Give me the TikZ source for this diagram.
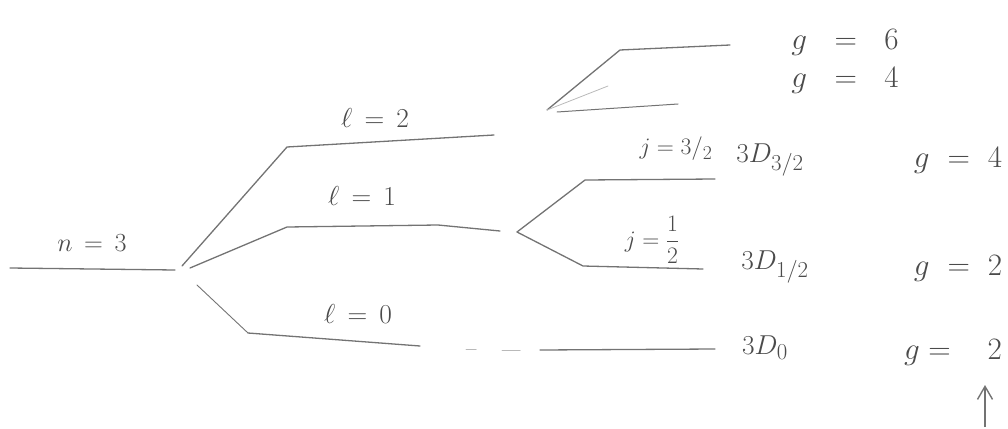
\documentclass[tikz,border=0pt]{standalone}
\usepackage{graphicx}
\usetikzlibrary{arrows.meta}
\definecolor{pencil}{RGB}{115,115,115}
\definecolor{ink}{RGB}{75,75,75}
\newcommand{\bigtxt}[2]{\scalebox{#1}{\Huge #2}}
\tikzset{
  level/.style={draw=pencil, line width=1.3pt, line cap=round, line join=round},
  faint/.style={draw=pencil!50, line width=0.8pt, line cap=round},
  lab/.style={text=ink, inner sep=1pt},
}
\begin{document}
\begin{tikzpicture}[x=1pt,y=-1pt]
\useasboundingbox (0,0) rectangle (1008,428);
% coordinates (pixels, y downwards)
\coordinate (n0) at (10,268);
\coordinate (n1) at (175,270);
\coordinate (s)  at (182,266);
\coordinate (d1) at (287,147);
\coordinate (d2) at (494,135);
\coordinate (p0) at (190,268);
\coordinate (p1) at (287,227);
\coordinate (p2) at (438,225);
\coordinate (p3) at (500,231);
\coordinate (o0) at (197,285);
\coordinate (o1) at (248,333);
\coordinate (o2) at (420,346);
\coordinate (o3) at (466,349);
\coordinate (o4) at (476,349);
\coordinate (o5) at (502,350);
\coordinate (o6) at (520,350);
\coordinate (o7) at (540,350);
\coordinate (o8) at (715,349);
\coordinate (ds) at (547,110);
\coordinate (da1) at (620,50);
\coordinate (da2) at (730,45);
\coordinate (db0) at (557,112);
\coordinate (db1) at (678,104);
\coordinate (df) at (608,86);
\coordinate (ps) at (517,232);
\coordinate (pa1) at (585,180);
\coordinate (pa2) at (715,179);
\coordinate (pb1) at (583,266);
\coordinate (pb2) at (703,269);
\coordinate (ar0) at (985,427);
\coordinate (ar1) at (985,385);

% levels
\draw[level] (n0) -- (n1);
\draw[level] (s) -- (d1) -- (d2);
\draw[level] (p0) -- (p1) -- (p2) -- (p3);
\draw[level, line width=0.9pt] (o0) -- (o1);
\draw[level] (o1) -- (o2);
\draw[faint, line width=1pt] (o3) -- (o4);
\draw[faint, line width=1pt] (o5) -- (o6);
\draw[level] (o7) -- (o8);
\draw[level] (ds) -- (da1) -- (da2);
\draw[level, line width=1pt] (db0) -- (db1);
\draw[faint] (ds) -- (df);
\draw[level] (ps) -- (pa1) -- (pa2);
\draw[level] (ps) -- (pb1) -- (pb2);
\draw[draw=pencil, line width=1.4pt, -{Straight Barb[length=13pt,width=15pt]}] (ar0) -- (ar1);

% labels
\node[lab] (ln) at (92,243) {\bigtxt{1.05}{$n\,=\,3$}};
\node[lab] (l2) at (375,118) {\bigtxt{1.1}{$\ell\,=\,2$}};
\node[lab] (l1) at (362,196) {\bigtxt{1.1}{$\ell\,=\,1$}};
\node[lab] (l0) at (358,314) {\bigtxt{1.1}{$\ell\,=\,0$}};
\node[lab] (g6) at (845,42) {\bigtxt{1.25}{$g\ \ =\ \ 6$}};
\node[lab] (g4a) at (845,80) {\bigtxt{1.25}{$g\ \ =\ \ 4$}};
\node[lab] (j32) at (676,149) {\bigtxt{0.95}{$j = 3/_2$}};
\node[lab] (t32) at (770,160) {\bigtxt{1.1}{$3D_{3/2}$}};
\node[lab] (g4b) at (958,160) {\bigtxt{1.25}{$g\ =\ 4$}};
\node[lab] (j12) at (652,240) {\bigtxt{0.95}{$j = \displaystyle\frac{1}{2}$}};
\node[lab] (t12) at (775,267) {\bigtxt{1.1}{$3D_{1/2}$}};
\node[lab] (g2a) at (958,268) {\bigtxt{1.25}{$g\ =\ 2$}};
\node[lab] (t0) at (765,348) {\bigtxt{1.1}{$3D_0$}};
\node[lab] (g2b) at (953,352) {\bigtxt{1.25}{$g =\ \ \ 2$}};
\end{tikzpicture}
\end{document}
